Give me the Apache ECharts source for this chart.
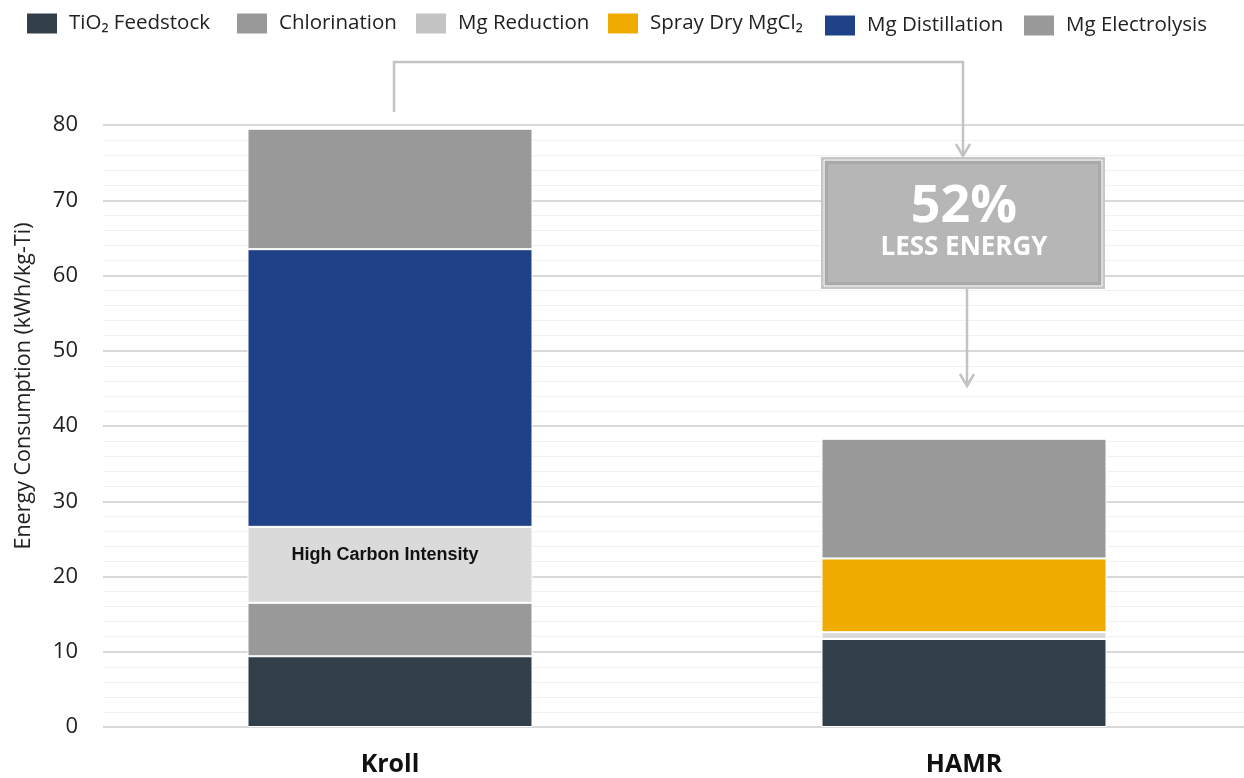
<!DOCTYPE html>
<html>
<head>
<meta charset="utf-8">
<script src="https://cdn.jsdelivr.net/npm/echarts@6/dist/echarts.min.js"></script>
<style>
html,body{margin:0;padding:0;background:#fff;}
#chart{width:1244px;height:778px;}
</style>
</head>
<body>
<div id="chart"></div>
<script>
const categories = ['Kroll', 'HAMR'];
const seriesNames = ['TiO₂ Feedstock', 'Chlorination', 'Mg Reduction', 'Spray Dry MgCl₂', 'Mg Distillation', 'Mg Electrolysis'];
const tio2Feedstock   = [9.4, 11.7];
const chlorination    = [7.1, 0];
const mgReduction     = [10.1, 0.9];
const sprayDryMgCl2   = [0, 9.8];
const mgDistillation  = [36.9, 0];
const mgElectrolysis  = [16.0, 15.9];
const yTicks = [0, 10, 20, 30, 40, 50, 60, 70, 80];
const annotationTitle = '52%';
const annotationSub = 'LESS ENERGY';
const barNote = 'High Carbon Intensity';

const colors = ['#333f48', '#999999', '#dadada', '#f0ab00', '#1f4287', '#999999'];
const legendColors = ['#333f48', '#999999', '#c4c4c4', '#f0ab00', '#1f4287', '#999999'];
const legendLeft = [27, 237, 416, 608, 825, 1024];
const legendTop = [13, 13, 13, 13, 15, 15];
const values = [tio2Feedstock, chlorination, mgReduction, sprayDryMgCl2, mgDistillation, mgElectrolysis];
const FONT = '"Open Sans", "Noto Sans", sans-serif';

const chart = echarts.init(document.getElementById('chart'));

const series = seriesNames.map((name, i) => ({
  name: name,
  type: 'bar',
  stack: 'total',
  barWidth: 285,
  itemStyle: { color: colors[i], borderColor: '#ffffff', borderWidth: 1 },
  emphasis: { disabled: true },
  data: values[i].map((v, j) => {
    if (i === 2 && j === 0) {
      return {
        value: v,
        label: {
          show: true, position: 'inside', formatter: barNote,
          fontFamily: '"Liberation Sans", Arial, sans-serif', fontWeight: 'bold',
          fontSize: 18, color: '#111', offset: [-5, -10]
        }
      };
    }
    return v;
  })
}));

const legends = seriesNames.map((n, i) => ({
  left: legendLeft[i], top: legendTop[i], padding: 0,
  itemWidth: 30, itemHeight: 20,
  icon: 'rect',
  selectedMode: false,
  textStyle: { fontSize: 20.5, color: '#222', fontFamily: FONT, padding: [0, 0, 0, 7] },
  data: [{ name: n, itemStyle: { color: legendColors[i], borderWidth: 0 } }]
}));

const lineColor = '#c3c3c3';
const option = {
  animation: false,
  backgroundColor: '#ffffff',
  textStyle: { fontFamily: FONT },
  legend: legends,
  grid: { left: 103, width: 1148, top: 125, bottom: 51, containLabel: false, outerBoundsMode: 'none' },
  xAxis: {
    type: 'category',
    data: categories,
    axisLine: { show: false },
    axisTick: { show: false },
    axisLabel: { fontSize: 25, fontWeight: 'bold', color: '#111', margin: 25, fontFamily: FONT }
  },
  yAxis: {
    type: 'value',
    min: yTicks[0], max: yTicks[yTicks.length - 1], interval: 10,
    axisLine: { show: false },
    axisTick: { show: false },
    axisLabel: { fontSize: 22, color: '#222', margin: 25, fontFamily: FONT },
    splitLine: { show: true, lineStyle: { color: '#d9d9d9', width: 2 } },
    minorTick: { show: false, splitNumber: 5 },
    minorSplitLine: { show: true, lineStyle: { color: '#f1f1f1', width: 1 } }
  },
  series: series
};
chart.setOption(option);

// Annotation anchored on the bars via the chart's own scales
const kx = chart.convertToPixel({ xAxisIndex: 0 }, 'Kroll');
const hx = chart.convertToPixel({ xAxisIndex: 0 }, 'HAMR');
const topY = 62, startY = 112;
const boxTop = 158, boxBot = 288;
const boxL = hx - 142, boxR = hx + 140;
const lowArrowX = hx + 3, lowArrowEnd = 386;

function chevron(x, y) {
  return { type: 'polyline', shape: { points: [[x - 7, y - 12], [x, y], [x + 7, y - 12]] },
           style: { stroke: lineColor, lineWidth: 2.5, fill: null }, z: 100 };
}

chart.setOption({
  graphic: [
    { type: 'text', rotation: Math.PI / 2, z: 100,
      x: 24, y: 386,
      style: { text: 'Energy Consumption (kWh/kg-Ti)', fontSize: 21.5, fontFamily: FONT, fill: '#222',
               align: 'center', verticalAlign: 'middle' } },
    { type: 'polyline', z: 100,
      shape: { points: [[kx + 4, startY], [kx + 4, topY], [hx - 1, topY], [hx - 1, boxTop - 2]] },
      style: { stroke: lineColor, lineWidth: 2.5, fill: null } },
    chevron(hx - 1, boxTop - 2),
    { type: 'rect', z: 100, shape: { x: boxL, y: boxTop, width: boxR - boxL, height: boxBot - boxTop },
      style: { fill: '#b6b6b6', stroke: '#c6c6c6', lineWidth: 2 } },
    { type: 'rect', z: 101, shape: { x: boxL + 2, y: boxTop + 2, width: boxR - boxL - 4, height: boxBot - boxTop - 4 },
      style: { fill: null, stroke: '#ffffff', lineWidth: 1 } },
    { type: 'rect', z: 101, shape: { x: boxL + 4.5, y: boxTop + 4.5, width: boxR - boxL - 9, height: boxBot - boxTop - 9 },
      style: { fill: null, stroke: '#a9a9a9', lineWidth: 3 } },
    { type: 'text', z: 102, x: hx, y: 207,
      style: { text: annotationTitle, fontSize: 52, fontWeight: 'bold', fontFamily: FONT, fill: '#ffffff',
               align: 'center', verticalAlign: 'middle' } },
    { type: 'text', z: 102, x: hx, y: 248,
      style: { text: annotationSub, fontSize: 26, fontWeight: 'bold', fontFamily: FONT, fill: '#ffffff',
               align: 'center', verticalAlign: 'middle' } },
    { type: 'line', z: 100, shape: { x1: lowArrowX, y1: boxBot + 1, x2: lowArrowX, y2: lowArrowEnd },
      style: { stroke: lineColor, lineWidth: 2.5 } },
    chevron(lowArrowX, lowArrowEnd)
  ]
});
</script>
</body>
</html>
